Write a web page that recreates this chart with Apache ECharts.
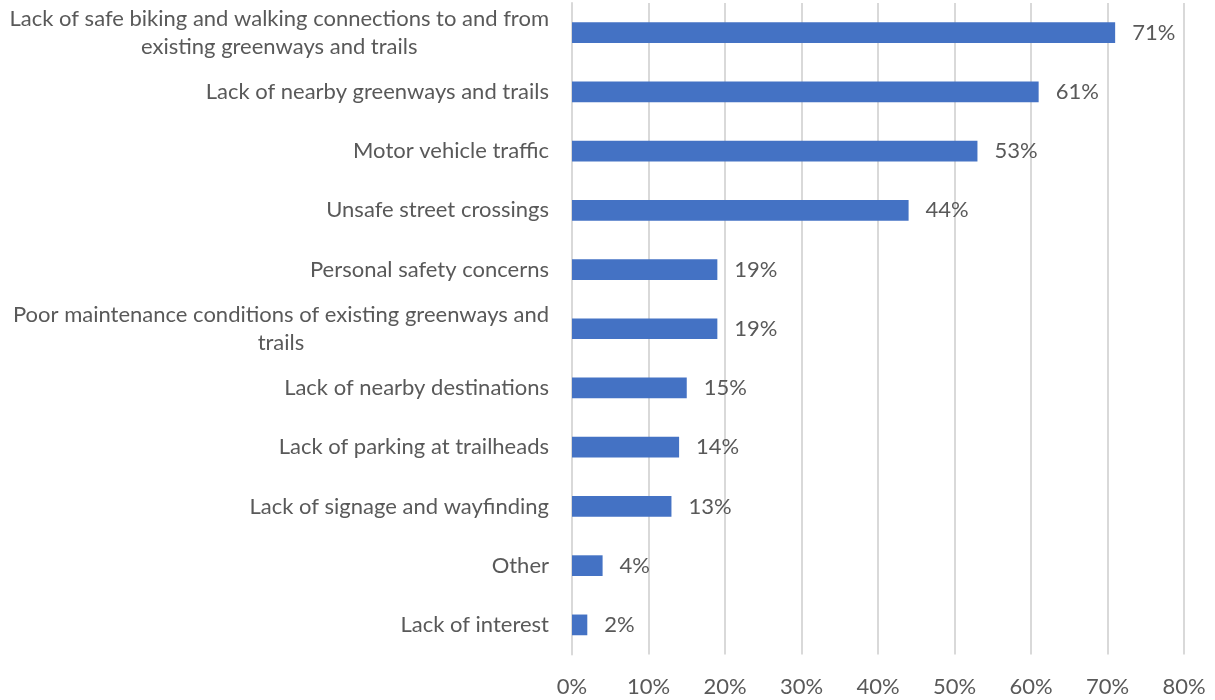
<!DOCTYPE html>
<html>
<head>
<meta charset="utf-8">
<script src="https://cdn.jsdelivr.net/npm/echarts@6/dist/echarts.min.js"></script>
<style>
html,body{margin:0;padding:0;background:#fff;}
#chart{width:1215px;height:700px;}
</style>
</head>
<body>
<div id="chart"></div>
<script>
const categories = [
  "Lack of safe biking and walking connections to and from\nexisting greenways and trails",
  "Lack of nearby greenways and trails",
  "Motor vehicle traffic",
  "Unsafe street crossings",
  "Personal safety concerns",
  "Poor maintenance conditions of existing greenways and\ntrails",
  "Lack of nearby destinations",
  "Lack of parking at trailheads",
  "Lack of signage and wayfinding",
  "Other",
  "Lack of interest"
];
const values = [71, 61, 53, 44, 19, 19, 15, 14, 13, 4, 2];
const xTicks = [0, 10, 20, 30, 40, 50, 60, 70, 80];

const FONT = 'Lato';
const FS = 22;
const TXT = '#595959';

const chart = echarts.init(document.getElementById('chart'), null, {renderer: 'canvas'});
chart.setOption({
  animation: false,
  backgroundColor: '#ffffff',
  grid: {left: 572, right: 31, top: 3, bottom: 45.5, containLabel: false},
  xAxis: {
    type: 'value',
    min: xTicks[0],
    max: xTicks[xTicks.length - 1],
    interval: 10,
    axisLine: {show: false},
    axisTick: {show: false},
    splitLine: {show: true, lineStyle: {color: '#d9d9d9', width: 2}},
    axisLabel: {
      color: TXT, fontFamily: FONT, fontSize: FS, margin: 21,
      formatter: v => v + '%'
    }
  },
  yAxis: {
    type: 'category',
    inverse: true,
    data: categories,
    axisLine: {show: true, lineStyle: {color: '#d9d9d9', width: 2}},
    axisTick: {show: false},
    axisLabel: {
      color: TXT, fontFamily: FONT, fontSize: FS, margin: 23, lineHeight: 28,
      formatter: v => v.split('\n').map(s => '{c|' + s + '}').join('\n'),
      rich: {c: {align: 'center', color: TXT, fontFamily: FONT, fontSize: FS, lineHeight: 28}}
    }
  },
  series: [{
    type: 'bar',
    data: values,
    barWidth: '35%',
    itemStyle: {color: '#4472c4'},
    label: {
      show: true, position: 'right', distance: 17,
      color: TXT, fontFamily: FONT, fontSize: FS,
      formatter: p => p.value + '%'
    }
  }]
});
</script>
</body>
</html>
